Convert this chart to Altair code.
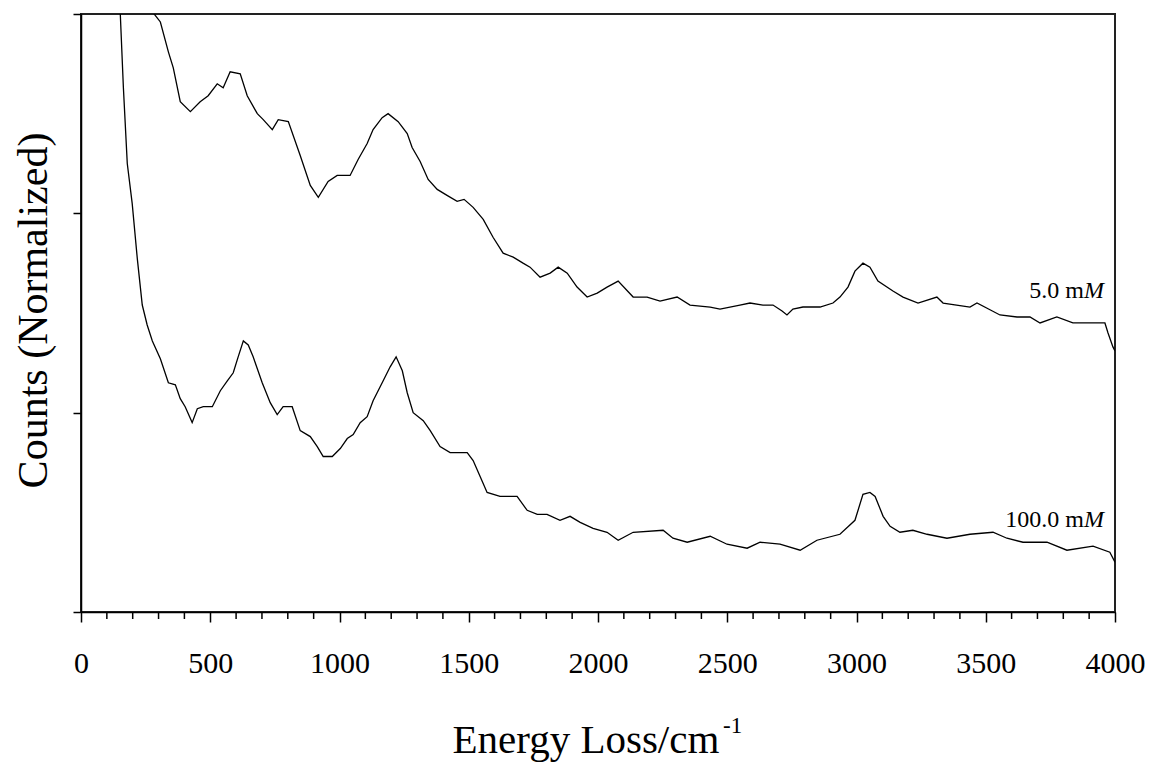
import altair as alt
import pandas as pd

# Raman spectra (energy loss in cm^-1, normalized counts)
energy_5mM = [250, 283, 307, 338, 357, 384, 423, 461, 492, 527,
              550, 577, 616, 643, 682, 705, 740, 763, 802, 848,
              887, 918, 956, 991, 1041, 1072, 1107, 1130, 1165, 1188,
              1227, 1262, 1281, 1312, 1343, 1378, 1416, 1455, 1482, 1517,
              1556, 1594, 1633, 1672, 1710, 1737, 1776, 1815, 1846, 1881,
              1919, 1958, 1997, 2035, 2078, 2136, 2190, 2240, 2306, 2356,
              2434, 2472, 2549, 2588, 2638, 2677, 2712, 2731, 2754, 2793,
              2859, 2909, 2936, 2967, 2994, 3025, 3052, 3083, 3141, 3180,
              3238, 3311, 3335, 3439, 3466, 3555, 3621, 3671, 3710, 3775,
              3837, 3915, 3961, 3973, 3992, 4000]
counts_5mM = [3.25, 3.00, 2.96, 2.81, 2.73, 2.56, 2.51, 2.56, 2.59, 2.65,
              2.63, 2.71, 2.70, 2.59, 2.50, 2.47, 2.42, 2.47, 2.46, 2.29,
              2.14, 2.08, 2.16, 2.19, 2.19, 2.27, 2.35, 2.42, 2.48, 2.50,
              2.46, 2.40, 2.33, 2.26, 2.17, 2.12, 2.09, 2.06, 2.07, 2.03,
              1.97, 1.88, 1.80, 1.78, 1.75, 1.73, 1.68, 1.70, 1.73, 1.70,
              1.63, 1.58, 1.60, 1.63, 1.66, 1.58, 1.58, 1.56, 1.58, 1.54,
              1.53, 1.52, 1.54, 1.55, 1.54, 1.54, 1.51, 1.49, 1.52, 1.53,
              1.53, 1.55, 1.58, 1.63, 1.71, 1.75, 1.73, 1.66, 1.61, 1.58,
              1.55, 1.58, 1.55, 1.53, 1.55, 1.49, 1.48, 1.48, 1.45, 1.48,
              1.45, 1.45, 1.45, 1.40, 1.33, 1.31]

energy_100mM = [130, 152, 164, 179, 198, 218, 237, 256, 276, 307,
                338, 365, 384, 403, 430, 450, 473, 508, 539, 566,
                589, 608, 628, 647, 666, 701, 732, 759, 782, 817,
                848, 887, 914, 937, 972, 1003, 1030, 1053, 1080, 1107,
                1130, 1169, 1196, 1219, 1243, 1262, 1285, 1324, 1351, 1389,
                1428, 1494, 1517, 1544, 1571, 1621, 1687, 1726, 1765, 1803,
                1853, 1892, 1931, 1981, 2035, 2078, 2136, 2252, 2290, 2345,
                2434, 2499, 2577, 2627, 2704, 2782, 2847, 2936, 2994, 3025,
                3052, 3072, 3103, 3130, 3168, 3218, 3273, 3350, 3439, 3528,
                3582, 3644, 3737, 3814, 3915, 3980, 4000]
counts_100mM = [3.30, 3.00, 2.63, 2.25, 2.05, 1.77, 1.54, 1.44, 1.36, 1.27,
                1.15, 1.14, 1.07, 1.03, 0.95, 1.02, 1.03, 1.03, 1.11, 1.16,
                1.20, 1.28, 1.36, 1.34, 1.28, 1.15, 1.05, 0.99, 1.03, 1.03,
                0.91, 0.88, 0.83, 0.78, 0.78, 0.82, 0.87, 0.89, 0.95, 0.98,
                1.06, 1.16, 1.23, 1.28, 1.21, 1.10, 1.00, 0.96, 0.91, 0.83,
                0.80, 0.80, 0.76, 0.68, 0.60, 0.58, 0.58, 0.51, 0.49, 0.49,
                0.46, 0.48, 0.45, 0.42, 0.40, 0.36, 0.40, 0.41, 0.37, 0.35,
                0.38, 0.34, 0.32, 0.35, 0.34, 0.31, 0.36, 0.39, 0.46, 0.59,
                0.60, 0.58, 0.48, 0.43, 0.40, 0.41, 0.39, 0.37, 0.39, 0.40,
                0.37, 0.35, 0.35, 0.31, 0.33, 0.30, 0.25]

major_ticks = [0, 500, 1000, 1500, 2000, 2500, 3000, 3500, 4000]
minor_ticks = [v for v in range(100, 4000, 100) if v % 500 != 0]
y_ticks = [0, 1, 2, 3]

# concentration labels: plain part, italic unit letter, anchor point
label_text = ["5.0 m", "100.0 m"]
label_unit = ["M", "M"]
label_energy = [3880, 3880]
label_counts = [1.576, 0.427]

spectra = pd.concat([
    pd.DataFrame({"energy": energy_5mM, "counts": counts_5mM, "series": "5.0 mM"}),
    pd.DataFrame({"energy": energy_100mM, "counts": counts_100mM, "series": "100.0 mM"}),
])
labels = pd.DataFrame({"text": label_text, "unit": label_unit,
                       "energy": label_energy, "counts": label_counts})
minor = pd.DataFrame({"energy": minor_ticks})

FONT = "Liberation Serif"
W, H = 1034, 598

x_scale = alt.Scale(domain=[0, 4000], nice=False, zero=False)
y_scale = alt.Scale(domain=[0, 3], nice=False, zero=False)

x_axis = alt.Axis(values=major_ticks, format="d", tickSize=10, tickWidth=1.5,
                  tickColor="black", domainColor="black", domainWidth=1.5, grid=False,
                  labelFont=FONT, labelFontSize=30, labelColor="black",
                  labelPadding=26, labelFlush=False,
                  title="Energy Loss/cm", titleFont=FONT, titleFontSize=41,
                  titleFontWeight="normal", titleColor="black",
                  titleAlign="left", titleBaseline="alphabetic",
                  titleX=371, titleY=140)
y_axis = alt.Axis(values=y_ticks, labels=False, tickSize=8, tickWidth=1.5,
                  tickColor="black", domainColor="black", domainWidth=1.5,
                  grid=False,
                  title="Counts (Normalized)", titleFont=FONT, titleFontSize=42,
                  titleFontWeight="normal", titleColor="black",
                  titleAngle=270, titleAlign="center", titleBaseline="middle",
                  titleX=-48, titleY=296)

lines = alt.Chart(spectra).mark_line(color="black", strokeWidth=1.3, clip=True).encode(
    x=alt.X("energy:Q", scale=x_scale, axis=x_axis),
    y=alt.Y("counts:Q", scale=y_scale, axis=y_axis),
    detail="series:N",
)

minor_rules = alt.Chart(minor).mark_rule(color="black", strokeWidth=1.5).encode(
    x=alt.X("energy:Q", scale=x_scale, axis=x_axis),
    y=alt.value(H),
    y2=alt.value(H + 7),
)

conc_text = alt.Chart(labels).mark_text(
    font=FONT, fontSize=24, align="right", baseline="alphabetic", color="black"
).encode(
    x=alt.X("energy:Q", scale=x_scale, axis=x_axis),
    y=alt.Y("counts:Q", scale=y_scale, axis=y_axis),
    text="text:N",
)

conc_unit = alt.Chart(labels).mark_text(
    font=FONT, fontSize=24, fontStyle="italic", align="left", baseline="alphabetic",
    color="black"
).encode(
    x=alt.X("energy:Q", scale=x_scale, axis=x_axis),
    y=alt.Y("counts:Q", scale=y_scale, axis=y_axis),
    text="unit:N",
)

# superscript exponent of the x-axis unit
superscript = alt.Chart(pd.DataFrame({"s": ["-1"]})).mark_text(
    font=FONT, fontSize=23, align="left", baseline="alphabetic", color="black"
).encode(
    x=alt.value(642),
    y=alt.value(719),
    text="s:N",
)

chart = alt.layer(lines, minor_rules, conc_text, conc_unit, superscript).properties(
    width=W, height=H,
    autosize=alt.AutoSizeParams(type="none"),
    padding={"left": 81, "top": 14, "right": 36, "bottom": 151},
    background="white",
).configure_view(stroke="#222", strokeWidth=2)

chart.save("out.html", embed_options={"renderer": "svg", "actions": False})
